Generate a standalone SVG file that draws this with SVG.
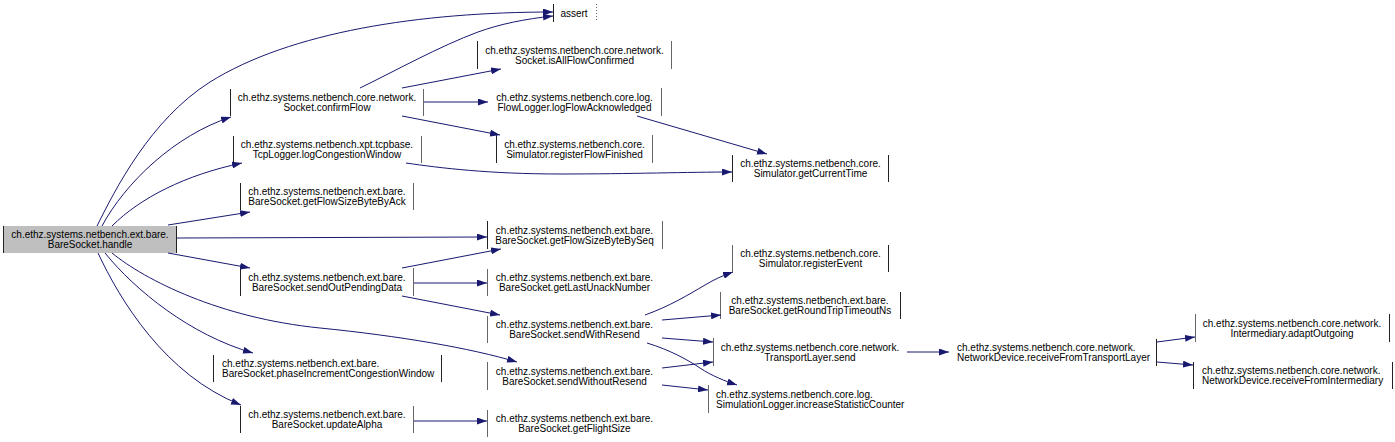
<svg xmlns="http://www.w3.org/2000/svg" width="1395" height="442" viewBox="0 0 1395 442">
<style>
text{font-family:"Liberation Sans",Arial,Helvetica,sans-serif;font-size:10px;fill:#000}
.m{text-anchor:middle}
.s{text-anchor:start}
.bg{fill:#fff;stroke:none}
.hl{fill:#bfbfbf;stroke:none}
.l{stroke:#222;stroke-width:1;fill:none}
.r{stroke:#666;stroke-width:1;fill:none}
.e{stroke:#191970;stroke-width:1;fill:none;marker-end:url(#ah)}
</style>
<defs>
<marker id="ah" markerUnits="userSpaceOnUse" viewBox="0 0 10 7" refX="10" refY="3.5" markerWidth="10" markerHeight="7" orient="auto">
<path d="M0,0 L10,3.5 L0,7 Z" fill="#191970"/>
</marker>
</defs>
<rect width="1395" height="442" fill="#fff"/>
<g id="nodes">
<g id="n_handle"><rect class="hl" x="3" y="226" width="174" height="27"/><line class="l" x1="3.5" y1="226" x2="3.5" y2="253"/><line class="l" x1="176.5" y1="226" x2="176.5" y2="253"/><text class="m" x="90" y="238">ch.ethz.systems.netbench.ext.bare.</text><text class="m" x="90" y="248">BareSocket.handle</text></g>
<g id="n_assert"><line class="l" x1="553.5" y1="4" x2="553.5" y2="22"/><line class="r" x1="596.5" y1="4" x2="596.5" y2="22" stroke-dasharray="1,2"/><text class="m" x="574" y="17">assert</text></g>
<g id="n_isAll"><line class="l" x1="477.5" y1="41" x2="477.5" y2="69"/><line class="r" x1="671.5" y1="41" x2="671.5" y2="69"/><text class="m" x="574.5" y="54">ch.ethz.systems.netbench.core.network.</text><text class="m" x="574.5" y="64">Socket.isAllFlowConfirmed</text></g>
<g id="n_confirm"><line class="l" x1="230.5" y1="89" x2="230.5" y2="116"/><line class="r" x1="423.5" y1="89" x2="423.5" y2="116"/><text class="m" x="327" y="101">ch.ethz.systems.netbench.core.network.</text><text class="m" x="327" y="111">Socket.confirmFlow</text></g>
<g id="n_logFlowAck"><line class="r" x1="661.5" y1="88" x2="661.5" y2="116"/><text class="m" x="574.5" y="101">ch.ethz.systems.netbench.core.log.</text><text class="m" x="574.5" y="111">FlowLogger.logFlowAcknowledged</text></g>
<g id="n_regFlowFin"><line class="l" x1="496.5" y1="135" x2="496.5" y2="163"/><line class="r" x1="652.5" y1="135" x2="652.5" y2="163"/><text class="m" x="574.5" y="148">ch.ethz.systems.netbench.core.</text><text class="m" x="574.5" y="158">Simulator.registerFlowFinished</text></g>
<g id="n_logCwnd"><line class="l" x1="233.5" y1="136" x2="233.5" y2="163"/><line class="r" x1="421.5" y1="136" x2="421.5" y2="163"/><text class="m" x="327" y="148">ch.ethz.systems.netbench.xpt.tcpbase.</text><text class="m" x="327" y="158">TcpLogger.logCongestionWindow</text></g>
<g id="n_getCurTime"><line class="l" x1="732.5" y1="155" x2="732.5" y2="182"/><line class="l" x1="888.5" y1="155" x2="888.5" y2="182"/><text class="m" x="810.5" y="167">ch.ethz.systems.netbench.core.</text><text class="m" x="810.5" y="177">Simulator.getCurrentTime</text></g>
<g id="n_byAck"><line class="l" x1="240.5" y1="183" x2="240.5" y2="210"/><line class="r" x1="413.5" y1="183" x2="413.5" y2="210"/><text class="m" x="327" y="195">ch.ethz.systems.netbench.ext.bare.</text><text class="m" x="327" y="205">BareSocket.getFlowSizeByteByAck</text></g>
<g id="n_bySeq"><line class="l" x1="487.5" y1="221" x2="487.5" y2="249"/><line class="r" x1="662.5" y1="221" x2="662.5" y2="249"/><text class="m" x="574.5" y="234">ch.ethz.systems.netbench.ext.bare.</text><text class="m" x="574.5" y="244">BareSocket.getFlowSizeByteBySeq</text></g>
<g id="n_regEvent"><line class="r" x1="732.5" y1="245" x2="732.5" y2="272"/><line class="l" x1="888.5" y1="245" x2="888.5" y2="272"/><text class="m" x="810.5" y="257">ch.ethz.systems.netbench.core.</text><text class="m" x="810.5" y="267">Simulator.registerEvent</text></g>
<g id="n_sendOut"><line class="l" x1="240.5" y1="268" x2="240.5" y2="296"/><line class="r" x1="413.5" y1="268" x2="413.5" y2="296"/><text class="m" x="327" y="281">ch.ethz.systems.netbench.ext.bare.</text><text class="m" x="327" y="291">BareSocket.sendOutPendingData</text></g>
<g id="n_lastUnack"><line class="r" x1="487.5" y1="269" x2="487.5" y2="296"/><text class="m" x="574.5" y="281">ch.ethz.systems.netbench.ext.bare.</text><text class="m" x="574.5" y="291">BareSocket.getLastUnackNumber</text></g>
<g id="n_rtt"><line class="r" x1="720.5" y1="292" x2="720.5" y2="319"/><line class="l" x1="900.5" y1="292" x2="900.5" y2="319"/><text class="m" x="810" y="304">ch.ethz.systems.netbench.ext.bare.</text><text class="m" x="810" y="314">BareSocket.getRoundTripTimeoutNs</text></g>
<g id="n_sendWith"><line class="r" x1="487.5" y1="316" x2="487.5" y2="343"/><text class="m" x="574.5" y="328">ch.ethz.systems.netbench.ext.bare.</text><text class="m" x="574.5" y="338">BareSocket.sendWithResend</text></g>
<g id="n_tlSend"><line class="r" x1="713.5" y1="338" x2="713.5" y2="366"/><text class="m" x="810" y="351">ch.ethz.systems.netbench.core.network.</text><text class="m" x="810" y="361">TransportLayer.send</text></g>
<g id="n_rxTL"><line class="l" x1="1156.5" y1="339" x2="1156.5" y2="366"/><text class="s" x="957" y="351">ch.ethz.systems.netbench.core.network.</text><text class="s" x="957" y="361">NetworkDevice.receiveFromTransportLayer</text></g>
<g id="n_phase"><line class="l" x1="213.5" y1="355" x2="213.5" y2="382"/><line class="l" x1="441.5" y1="355" x2="441.5" y2="382"/><text class="s" x="222" y="367">ch.ethz.systems.netbench.ext.bare.</text><text class="s" x="222" y="377">BareSocket.phaseIncrementCongestionWindow</text></g>
<g id="n_sendWithout"><line class="r" x1="487.5" y1="362" x2="487.5" y2="390"/><text class="m" x="574.5" y="375">ch.ethz.systems.netbench.ext.bare.</text><text class="m" x="574.5" y="385">BareSocket.sendWithoutResend</text></g>
<g id="n_incStat"><line class="r" x1="708.5" y1="385" x2="708.5" y2="413"/><text class="s" x="716" y="398">ch.ethz.systems.netbench.core.log.</text><text class="s" x="716" y="408">SimulationLogger.increaseStatisticCounter</text></g>
<g id="n_updAlpha"><line class="l" x1="240.5" y1="406" x2="240.5" y2="433"/><line class="r" x1="413.5" y1="406" x2="413.5" y2="433"/><text class="m" x="327" y="418">ch.ethz.systems.netbench.ext.bare.</text><text class="m" x="327" y="428">BareSocket.updateAlpha</text></g>
<g id="n_flight"><line class="r" x1="487.5" y1="410" x2="487.5" y2="437"/><text class="m" x="574.5" y="422">ch.ethz.systems.netbench.ext.bare.</text><text class="m" x="574.5" y="432">BareSocket.getFlightSize</text></g>
<g id="n_adapt"><line class="r" x1="1195.5" y1="314" x2="1195.5" y2="342"/><line class="l" x1="1389.5" y1="314" x2="1389.5" y2="342"/><text class="m" x="1292" y="327">ch.ethz.systems.netbench.core.network.</text><text class="m" x="1292" y="337">Intermediary.adaptOutgoing</text></g>
<g id="n_rxInt"><line class="l" x1="1193.5" y1="362" x2="1193.5" y2="389"/><line class="l" x1="1392.5" y1="362" x2="1392.5" y2="389"/><text class="s" x="1202" y="374">ch.ethz.systems.netbench.core.network.</text><text class="s" x="1202" y="384">NetworkDevice.receiveFromIntermediary</text></g>
</g>
<g id="edges">
<path class="e" d="M97,226 C115,190 150,120 210,82 C290,32 420,12 553,12"/>
<path class="e" d="M360,88 C393,72 440,46 478,32 C500,24 525,19 553,16"/>
<path class="e" d="M102,226 C125,183 175,135 231,117"/>
<path class="e" d="M112,226 C140,198 185,175 242,163"/>
<path class="e" d="M168,225 L250,212"/>
<path class="e" d="M177,238 L487,237"/>
<path class="e" d="M168,253 L250,268"/>
<path class="e" d="M112,253 C145,280 220,318 320,328 C400,336 470,348 517,362"/>
<path class="e" d="M105,253 C135,290 190,335 253,353"/>
<path class="e" d="M98,253 C120,300 165,375 241,405"/>
<path class="e" d="M402,88 L501,69"/>
<path class="e" d="M424,102 L488,102"/>
<path class="e" d="M402,116 L500,135"/>
<path class="e" d="M637,116 L767,154"/>
<path class="e" d="M406,163 C440,168 490,174 560,174 C630,174 690,172 732,172"/>
<path class="e" d="M402,268 L501,249"/>
<path class="e" d="M414,283 L487,283"/>
<path class="e" d="M402,296 L500,315"/>
<path class="e" d="M645,315 C670,306 688,295 705,285 C715,279 722,276 733,272"/>
<path class="e" d="M662,320 L721,315"/>
<path class="e" d="M662,338 L713,342"/>
<path class="e" d="M647,343 C670,350 688,360 700,368 C712,376 725,381 737,385"/>
<path class="e" d="M662,368 L713,362"/>
<path class="e" d="M662,385 L708,390"/>
<path class="e" d="M414,421 L487,421"/>
<path class="e" d="M907,352 L949,352"/>
<path class="e" d="M1157,342 L1195,337"/>
<path class="e" d="M1157,362 L1193,365"/>
</g>
</svg>
